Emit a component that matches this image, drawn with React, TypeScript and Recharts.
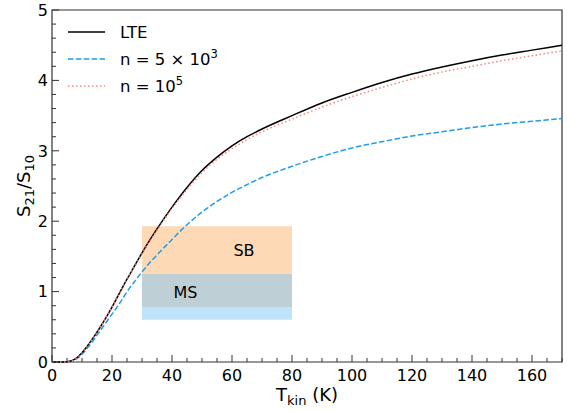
import { LineChart, Line, XAxis, YAxis, ReferenceArea, ReferenceDot } from "recharts";

// kinetic temperature grid (K)
const tkin = [0, 4, 6, 8, 10, 12, 14, 16, 18, 20, 22, 24, 26, 28, 30, 35, 40, 45, 50, 55, 60, 65, 70, 80, 90, 100, 110, 120, 130, 140, 150, 160, 170];
// S21/S10 ratios
const lte = [0, 0, 0.01, 0.05, 0.13, 0.24, 0.36, 0.49, 0.63, 0.78, 0.94, 1.1, 1.25, 1.4, 1.55, 1.89, 2.2, 2.48, 2.72, 2.91, 3.07, 3.2, 3.31, 3.5, 3.68, 3.83, 3.97, 4.09, 4.19, 4.28, 4.36, 4.43, 4.5];
const n5e3 = [0, 0, 0.01, 0.04, 0.11, 0.21, 0.32, 0.44, 0.56, 0.68, 0.8, 0.93, 1.06, 1.17, 1.28, 1.52, 1.74, 1.95, 2.13, 2.28, 2.41, 2.52, 2.62, 2.78, 2.92, 3.04, 3.13, 3.21, 3.27, 3.33, 3.38, 3.42, 3.46];
const n1e5 = [0, 0, 0.01, 0.05, 0.13, 0.24, 0.36, 0.49, 0.63, 0.78, 0.94, 1.1, 1.25, 1.39, 1.54, 1.87, 2.18, 2.45, 2.69, 2.88, 3.03, 3.16, 3.27, 3.45, 3.62, 3.77, 3.9, 4.02, 4.12, 4.2, 4.28, 4.35, 4.42];

// observed ranges
const sbRange = [0.78, 1.93];
const msRange = [0.6, 1.25];
const tRange = [30, 80];

const xTicks = Array.from({ length: 35 }, (_, i) => i * 5);
const yTicks = Array.from({ length: 26 }, (_, i) => Math.round(i * 2) / 10);

const data = tkin.map((t, i) => ({ t, lte: lte[i], a: n5e3[i], b: n1e5[i] }));

const AX = "#333";
const BLUE = "#1f9de8";
const RED = "#f3857c";
const FONT = "DejaVu Sans, sans-serif";

const XTick = (props: any) => {
  const { x, y, payload } = props;
  const major = payload.value % 20 === 0;
  return (
    <g>
      <line x1={x} x2={x} y1={y} y2={y - (major ? 7 : 4)} stroke={AX} strokeWidth={1} />
      {major && (
        <text x={x} y={y + 19} textAnchor="middle" fontSize={16} fontFamily={FONT} fill="#000">
          {payload.value}
        </text>
      )}
    </g>
  );
};

const YTick = (props: any) => {
  const { x, y, payload } = props;
  const v = payload.value;
  const major = Math.abs(v - Math.round(v)) < 1e-6;
  return (
    <g>
      <line x1={x} x2={x + (major ? 7 : 4)} y1={y} y2={y} stroke={AX} strokeWidth={1} />
      {major && (
        <text x={x - 4} y={y} dy="0.36em" textAnchor="end" fontSize={16} fontFamily={FONT} fill="#000">
          {Math.round(v)}
        </text>
      )}
    </g>
  );
};

export default function App() {
  return (
    <div style={{ position: "fixed", left: 0, top: 0, width: 567, height: 411, background: "#fff" }}>
      <LineChart width={567} height={411} data={data} margin={{ top: 10, right: 5, bottom: 0, left: 0 }}>
        <XAxis
          dataKey="t"
          type="number"
          domain={[0, 170]}
          ticks={xTicks}
          interval={0}
          height={49}
          tickSize={0}
          tickMargin={0}
          axisLine={false}
          tick={<XTick />}
        />
        <YAxis
          type="number"
          domain={[0, 5]}
          ticks={yTicks}
          interval={0}
          width={52}
          tickSize={0}
          tickMargin={0}
          axisLine={false}
          tick={<YTick />}
        />
        <ReferenceArea x1={tRange[0]} x2={tRange[1]} y1={sbRange[0]} y2={sbRange[1]} fill="#fdd9b5" fillOpacity={1} />
        <ReferenceArea x1={tRange[0]} x2={tRange[1]} y1={msRange[0]} y2={msRange[1]} fill="#81c5f7" fillOpacity={0.5} />
        <ReferenceDot x={64} y={1.58} r={0} fill="none" stroke="none"
          label={{ value: "SB", position: "center", fontSize: 16, fontFamily: FONT, fill: "#000" }} />
        <ReferenceDot x={44.5} y={0.99} r={0} fill="none" stroke="none"
          label={{ value: "MS", position: "center", fontSize: 16, fontFamily: FONT, fill: "#000" }} />
        <Line type="monotone" dataKey="a" stroke={BLUE} strokeWidth={1.5} strokeDasharray="5.5 2.4" dot={false} isAnimationActive={false} />
        <Line type="monotone" dataKey="lte" stroke="#000" strokeWidth={1.5} dot={false} isAnimationActive={false} />
        <Line type="monotone" dataKey="b" stroke={RED} strokeWidth={1.5} strokeDasharray="1.5 2.5" dot={false} isAnimationActive={false} />
        <ReferenceArea x1={0} x2={170} y1={0} y2={5} fill="none" stroke={AX} strokeWidth={1.2} ifOverflow="visible" />
      </LineChart>
      <svg width={567} height={411} style={{ position: "absolute", left: 0, top: 0, pointerEvents: "none" }} fontFamily={FONT}>
        <line x1={68} x2={105} y1={32} y2={32} stroke="#000" strokeWidth={1.5} />
        <text x={120} y={32} dy="0.36em" fontSize={16.5}>LTE</text>
        <line x1={68} x2={105} y1={59} y2={59} stroke={BLUE} strokeWidth={1.5} strokeDasharray="5.5 2.4" />
        <text x={120} y={59} dy="0.36em" fontSize={16.5}>
          n = 5 × 10<tspan dy="-7" fontSize={11.5}>3</tspan>
        </text>
        <line x1={68} x2={105} y1={86} y2={86} stroke={RED} strokeWidth={1.5} strokeDasharray="1.5 2.5" />
        <text x={120} y={86} dy="0.36em" fontSize={16.5}>
          n = 10<tspan dy="-7" fontSize={11.5}>5</tspan>
        </text>
        <text x={307} y={401} textAnchor="middle" fontSize={18}>
          T<tspan dy="4" fontSize={13}>kin</tspan><tspan dy="-4"> (K)</tspan>
        </text>
        <text transform="translate(30,186) rotate(-90)" textAnchor="middle" fontSize={18}>
          S<tspan dy="4" fontSize={13}>21</tspan><tspan dy="-4">/S</tspan><tspan dy="4" fontSize={13}>10</tspan>
        </text>
      </svg>
    </div>
  );
}
